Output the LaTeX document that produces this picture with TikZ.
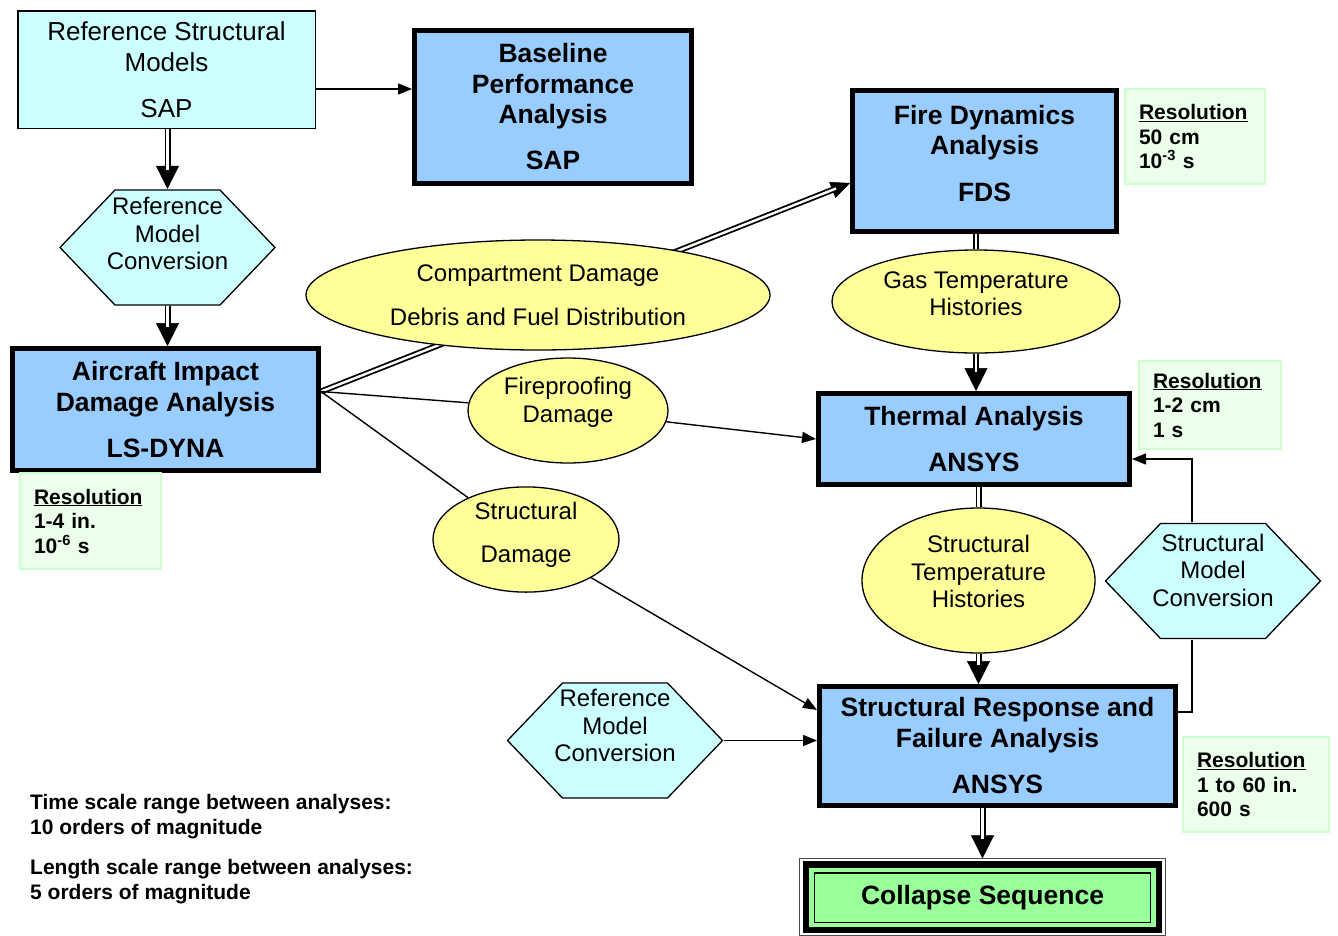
\documentclass[tikz,border=0pt]{standalone}
\usepackage{fontspec}
\setmainfont{Liberation Sans}
\usetikzlibrary{shapes.geometric,arrows.meta,backgrounds}
\definecolor{cyanl}{HTML}{CCFFFF}
\definecolor{bluel}{HTML}{99CCFF}
\definecolor{yell}{HTML}{FFFF99}
\definecolor{resfill}{HTML}{EBFFEB}
\definecolor{resdraw}{HTML}{CCFFCC}
\definecolor{colgreen}{HTML}{99FF99}
\begin{document}
\begin{tikzpicture}[x=1pt,y=-1pt,
  thinbox/.style={draw, line width=1.5pt, fill=cyanl, align=center, inner sep=0pt, font=\fontsize{26}{31}\selectfont},
  thickbox/.style={draw, line width=5pt, fill=bluel, align=center, inner sep=0pt, font=\bfseries\fontsize{26.5}{30.5}\selectfont},
  ell/.style={ellipse, draw, line width=1.3pt, fill=yell, inner sep=0pt, align=center, font=\fontsize{24}{27.5}\selectfont},
  hexbox/.style={minimum width=217pt, minimum height=117pt, inner sep=0pt, align=center, font=\fontsize{24}{27.5}\selectfont,
    path picture={\draw[line width=1.3pt, fill=cyanl]
      ([xshift=1pt]path picture bounding box.west) --
      ([shift={(56pt,-1pt)}]path picture bounding box.north west) --
      ([shift={(-56pt,-1pt)}]path picture bounding box.north east) --
      ([xshift=-1pt]path picture bounding box.east) --
      ([shift={(-56pt,1pt)}]path picture bounding box.south east) --
      ([shift={(56pt,1pt)}]path picture bounding box.south west) -- cycle;}},
  resbox/.style={draw=resdraw, line width=1.2pt, fill=resfill, align=left, inner xsep=14pt, inner ysep=0pt, font=\bfseries\fontsize{21}{24.5}\selectfont},
  notes/.style={align=left, inner sep=0pt, font=\bfseries\fontsize{21}{25}\selectfont},
  collbox/.style={draw, line width=1.3pt, fill=colgreen, inner sep=0pt, font=\bfseries\fontsize{26.5}{30}\selectfont},
  conn/.style={line width=1.4pt},
  arr/.style={line width=1.4pt, -{Triangle[length=14pt,width=11pt]}},
  dblline/.style={line width=1.8pt, double, double distance=2.4pt},
  dblbody/.style={dblline, shorten >=19pt},
  dblbodysm/.style={dblline, shorten >=15pt},
  dblhead/.style={line width=0.5pt, -{Triangle[length=23pt,width=23pt]}},
  dblheadsm/.style={line width=0.5pt, -{Triangle[length=19pt,width=17pt]}}
]
\useasboundingbox (0,0) rectangle (1338,935);

% boxes
\node[thinbox, minimum width=297.5pt, minimum height=117.5pt] (rs) at (166.5,69.5) {Reference Structural\\Models\\[15pt]SAP};
\node[thickbox, minimum width=277pt, minimum height=153pt] (base) at (553,107) {Baseline\\Performance\\Analysis\\[15.5pt]SAP};
\node[thickbox, minimum width=264pt, minimum height=141pt] (fds) at (984.5,161) {Fire Dynamics\\Analysis\\[16pt]FDS\\[-14.5pt]\mbox{}};
\node[thickbox, minimum width=306pt, minimum height=122pt] (air) at (165.5,409.5) {Aircraft Impact\\Damage Analysis\\[15.5pt]LS-DYNA};
\node[thickbox, minimum width=311pt, minimum height=91pt] (thermal) at (974,439) {Thermal Analysis\\[16pt]ANSYS};
\node[thickbox, minimum width=356pt, minimum height=119pt] (sr) at (997.5,746) {Structural Response and\\Failure Analysis\\[16pt]ANSYS};
\node[collbox, minimum width=336pt, minimum height=49.5pt] (collapse) at (982.5,897.75) {Collapse Sequence};

% hexagons
\node[hexbox] (h1) at (167.5,247.5) {Reference\\Model\\Conversion\\[0.5pt]\mbox{}};
\node[hexbox] (h2) at (1213,581) {Structural\\Model\\Conversion\\[-5.5pt]\mbox{}};
\node[hexbox] (h3) at (615,740.5) {Reference\\Model\\Conversion\\[2.5pt]\mbox{}};

% ellipses
\node[ell, minimum width=464pt, minimum height=110pt] (e1) at (538,295) {Compartment Damage\\[16.5pt]Debris and Fuel Distribution};
\node[ell, minimum width=288pt, minimum height=103pt] (e2) at (976,301.5) {Gas Temperature\\Histories\\[-11.5pt]\mbox{}};
\node[ell, minimum width=200pt, minimum height=105pt] (e3) at (568,410.5) {Fireproofing\\Damage\\[-6.5pt]\mbox{}};
\node[ell, minimum width=186pt, minimum height=105pt] (e4) at (526,539.5) {Structural\\[15.5pt]Damage\\[-13.5pt]\mbox{}};
\node[ell, minimum width=233pt, minimum height=145pt] (e5) at (978.5,580.5) {Structural\\Temperature\\Histories\\[-9.5pt]\mbox{}};

% resolution boxes
\node[resbox, text width=112pt, minimum height=95pt] (r1) at (1195,136.5) {\underline{Resolution}\\50 cm\\10\textsuperscript{-3} s};
\node[resbox, text width=114pt, minimum height=88pt] (r2) at (1210,405) {\underline{Resolution}\\1-2 cm\\1 s};
\node[resbox, text width=113pt, minimum height=96pt] (r3) at (90.5,521) {\underline{Resolution}\\1-4 in.\\10\textsuperscript{-6} s};
\node[resbox, text width=118pt, minimum height=95pt] (r4) at (1256,784.5) {\underline{Resolution}\\1 to 60 in.\\600 s};

% notes
\node[notes, anchor=west] (notes) at (30,849) {Time scale range between analyses:\\10 orders of magnitude\\[15pt]Length scale range between analyses:\\5 orders of magnitude};

\coordinate (src) at ([yshift=18pt]air.east);
\coordinate (c1) at (1192,712);

\begin{scope}[on background layer]
  \fill[white] (0,0) rectangle (1338,935);
  % collapse rims
  \draw[line width=1pt, black!70] ([shift={(-14pt,14pt)}]collapse.north west) rectangle ([shift={(14pt,-12pt)}]collapse.south east);
  \draw[line width=6.5pt, fill=colgreen] ([shift={(-8pt,8pt)}]collapse.north west) rectangle ([shift={(8pt,-7pt)}]collapse.south east);
  % double arrows
  \draw[dblhead] (h1.north |- rs.south) -- (h1.north);
  \draw[dblbody] (h1.north |- rs.south) -- (h1.north);
  \draw[dblhead] (h1.south) -- (h1.south |- air.north);
  \draw[dblbody] (h1.south) -- (h1.south |- air.north);
  \draw[dblheadsm] (src) -- ([yshift=-22pt]fds.west);
  \draw[dblbodysm] (src) -- ([yshift=-22pt]fds.west);
  \draw[dblline] (e2.north |- fds.south) -- (e2.north);
  \draw[dblhead] (e2.south) -- (e2.south |- thermal.north);
  \draw[dblbody] (e2.south) -- (e2.south |- thermal.north);
  \draw[dblline] (e5.north |- thermal.south) -- (e5.north);
  \draw[dblhead] (e5.south) -- (e5.south |- sr.north);
  \draw[dblbody] (e5.south) -- (e5.south |- sr.north);
  \draw[dblhead] (collapse.north |- sr.south) -- ([yshift=14pt]collapse.north);
  \draw[dblbody] (collapse.north |- sr.south) -- ([yshift=14pt]collapse.north);
  % single connectors
  \draw[arr] ([yshift=-19.5pt]rs.east) -- ([yshift=-19.5pt]rs.east -| base.west);
  \draw[conn] (src) -- (e3);
  \draw[arr] (e3) -- (thermal.west);
  \draw[conn] (src) -- (e4);
  \draw[arr] (e4) -- ([yshift=36pt]sr.west);
  \draw[arr] (h3.east) -- (h3.east -| sr.west);
  \draw[conn] ([yshift=34pt]sr.east) -- (c1) -- (c1 |- h2.south);
  \draw[arr] (c1 |- h2.north) |- ([yshift=-20pt]thermal.east);
\end{scope}
\end{tikzpicture}
\end{document}
